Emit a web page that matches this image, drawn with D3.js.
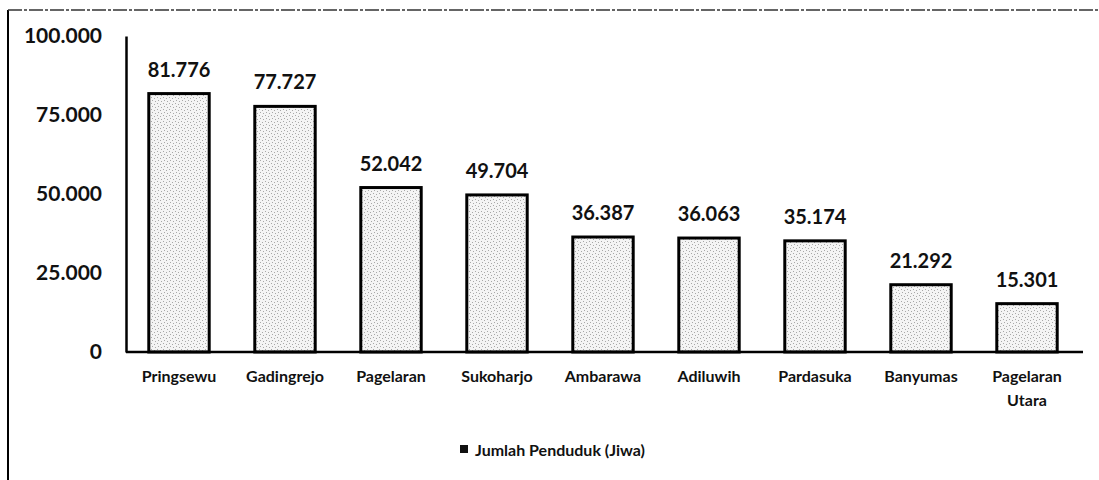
<!DOCTYPE html>
<html>
<head>
<meta charset="utf-8">
<script src="https://cdn.jsdelivr.net/npm/d3@7"></script>
<style>
  body { margin: 0; background: #fff; }
  svg { display: block; font-family: Lato, 'Open Sans', sans-serif; }
</style>
</head>
<body>
<script>
// data
const kecamatan = ['Pringsewu', 'Gadingrejo', 'Pagelaran', 'Sukoharjo', 'Ambarawa',
  'Adiluwih', 'Pardasuka', 'Banyumas', 'Pagelaran Utara'];
const penduduk = [81776, 77727, 52042, 49704, 36387, 36063, 35174, 21292, 15301];
const yTicks = [0, 25000, 50000, 75000, 100000];
const seriesName = 'Jumlah Penduduk (Jiwa)';

const W = 1099;
const H = 480;
const margin = {
  top: 36, right: 19, bottom: 128, left: 126,
};
const width = W - margin.left - margin.right;
const height = H - margin.top - margin.bottom;

const id = d3.formatLocale({
  decimal: ',', thousands: '.', grouping: [3], currency: ['', ''],
});
const fmt = id.format(',d');

const data = kecamatan.map((k, i) => ({ name: k, value: penduduk[i] }));

const x = d3.scaleBand().domain(kecamatan).range([0, width]).paddingInner(0.43).paddingOuter(0.215);
const y = d3.scaleLinear().domain([0, 100000]).range([height, 0]);

const svg = d3.select('body').append('svg')
  .attr('width', W)
  .attr('height', H);

// stipple texture for the bars
const defs = svg.append('defs');
const pat = defs.append('pattern')
  .attr('id', 'stipple')
  .attr('patternUnits', 'userSpaceOnUse')
  .attr('width', 6)
  .attr('height', 6);
pat.append('rect').attr('width', 6).attr('height', 6).attr('fill', '#f4f4f4');
[[1, 1], [4, 2], [2, 4], [5, 5]].forEach(p => {
  pat.append('rect').attr('x', p[0]).attr('y', p[1]).attr('width', 1).attr('height', 1).attr('fill', '#a8a8a8');
});

// outer frame (left + dotted top)
svg.append('line')
  .attr('x1', 8).attr('x2', 8).attr('y1', 10).attr('y2', H)
  .attr('stroke', '#000').attr('stroke-width', 2);
svg.append('line')
  .attr('x1', 8).attr('x2', W).attr('y1', 10).attr('y2', 10)
  .attr('stroke', '#333').attr('stroke-width', 1.5)
  .attr('stroke-dasharray', '14 2 3 2');

const g = svg.append('g')
  .attr('transform', `translate(${margin.left},${margin.top})`);

// bars
g.selectAll('.bar')
  .data(data)
  .enter().append('rect')
  .attr('class', 'bar')
  .attr('x', d => x(d.name))
  .attr('y', d => y(d.value))
  .attr('width', x.bandwidth())
  .attr('height', d => height - y(d.value))
  .attr('fill', 'url(#stipple)')
  .attr('stroke', '#000')
  .attr('stroke-width', 3);

// value labels
g.selectAll('.val')
  .data(data)
  .enter().append('text')
  .attr('class', 'val')
  .attr('x', d => x(d.name) + x.bandwidth() / 2)
  .attr('y', d => y(d.value) - 17)
  .attr('text-anchor', 'middle')
  .attr('font-size', '20px')
  .attr('font-weight', 'bold')
  .attr('fill', '#111')
  .text(d => fmt(d.value));

// y axis
const yAxis = g.append('g')
  .call(d3.axisLeft(y).tickValues(yTicks).tickSize(0).tickPadding(24).tickFormat(fmt));
yAxis.select('.domain').attr('stroke', '#000').attr('stroke-width', 2.5);
yAxis.selectAll('text')
  .attr('font-size', '21px')
  .attr('font-weight', 'bold')
  .attr('font-family', 'Lato, sans-serif')
  .attr('fill', '#111');

// x axis
const xAxis = g.append('g')
  .attr('transform', `translate(0,${height})`)
  .call(d3.axisBottom(x).tickSize(0).tickPadding(19));
xAxis.select('.domain').attr('d', `M0,0H${width + 3}`).attr('stroke', '#000').attr('stroke-width', 2.5);
xAxis.selectAll('text')
  .attr('font-size', '16px')
  .attr('font-weight', 'bold')
  .attr('font-family', 'Lato, sans-serif')
  .attr('fill', '#111')
  .each(function (d) {
    const words = d.split(' ');
    if (words.length > 1) {
      const t = d3.select(this).text(null);
      words.forEach((w, i) => {
        t.append('tspan').attr('x', 0).attr('dy', i === 0 ? '0.71em' : '1.5em').text(w);
      });
      t.attr('dy', null);
    }
  });

// legend
const legend = svg.append('g')
  .attr('transform', `translate(${margin.left + width / 2 - 143},450)`);
legend.append('rect')
  .attr('x', 0).attr('y', -5).attr('width', 8).attr('height', 8)
  .attr('fill', '#111');
legend.append('text')
  .attr('x', 15).attr('y', 0)
  .attr('dy', '0.35em')
  .attr('font-size', '16px')
  .attr('font-weight', 'bold')
  .attr('fill', '#111')
  .text(seriesName);
</script>
</body>
</html>
